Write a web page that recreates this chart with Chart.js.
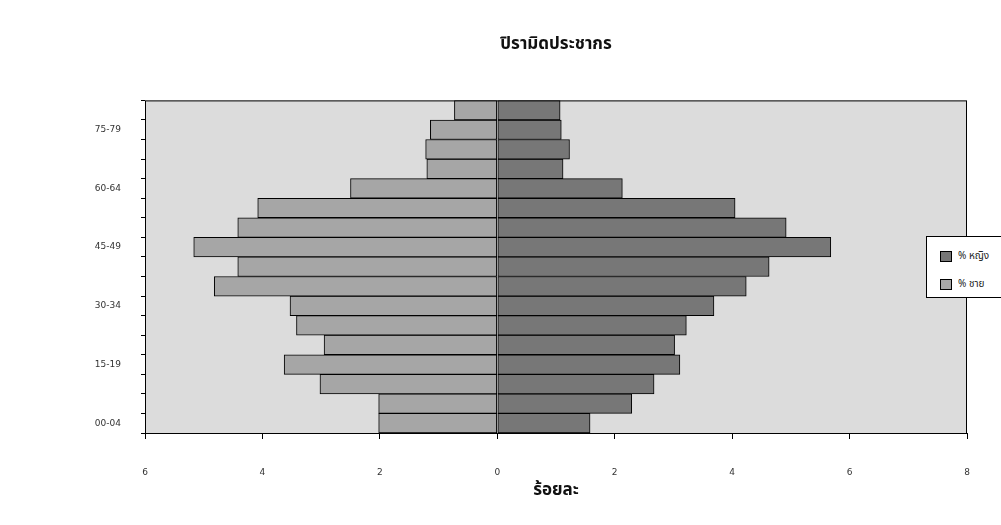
<!DOCTYPE html>
<html>
<head>
<meta charset="utf-8">
<script src="https://cdn.jsdelivr.net/npm/chart.js@4.4.1/dist/chart.umd.min.js"></script>
<style>
  html, body { margin: 0; padding: 0; background: #fff; overflow: hidden; }
  #wrap { position: relative; width: 1001px; height: 525px; }
  #legend {
    position: absolute; left: 926px; top: 236px; width: 110px; height: 62px;
    background: #fff; border: 1px solid #000; box-sizing: border-box;
    font: 10px "Noto Sans Thai", "Noto Sans", "DejaVu Sans", sans-serif; color: #222;
  }
  #legend .item { position: absolute; left: 13px; height: 12px; line-height: 12px; white-space: nowrap; }
  #legend .sw { display: inline-block; width: 10px; height: 9px; border: 1px solid #000; vertical-align: middle; margin-right: 6px; }
</style>
</head>
<body>
<div id="wrap">
  <canvas id="pyramid" width="1001" height="525"></canvas>
  <div id="legend"></div>
</div>
<script>
// age groups, bottom to top
const ageGroups = ['00-04', '05-09', '10-14', '15-19', '20-24', '25-29', '30-34', '35-39',
  '40-44', '45-49', '50-54', '55-59', '60-64', '65-69', '70-74', '75-79', '80+'];

// percent male (drawn to the left, so negative)
const malePct = [-2.02, -2.02, -3.02, -3.63, -2.95, -3.42, -3.53, -4.82,
  -4.42, -5.17, -4.42, -4.08, -2.5, -1.2, -1.22, -1.14, -0.73];

// percent female
const femalePct = [1.58, 2.29, 2.67, 3.11, 3.02, 3.22, 3.69, 4.24,
  4.63, 5.68, 4.92, 4.05, 2.13, 1.12, 1.23, 1.09, 1.07];

const xTicks = [-6, -4, -2, 0, 2, 4, 6, 8];

const femaleColor = '#777777';
const maleColor = '#a6a6a6';
const thaiFont = '"Noto Sans Thai", "Noto Sans", "DejaVu Sans", sans-serif';

// plot area background + frame like the Excel original
const plotBg = {
  id: 'plotBg',
  beforeDraw(chart) {
    const a = chart.chartArea, ctx = chart.ctx;
    ctx.save();
    ctx.fillStyle = '#dcdcdc';
    ctx.fillRect(a.left, a.top, a.right - a.left, a.bottom - a.top);
    ctx.restore();
  },
  afterDraw(chart) {
    const a = chart.chartArea, ctx = chart.ctx;
    ctx.save();
    ctx.strokeStyle = '#000';
    ctx.lineWidth = 1;
    ctx.strokeRect(a.left + 0.5, a.top + 0.5, a.right - a.left - 1, a.bottom - a.top);
    ctx.restore();
  }
};

new Chart(document.getElementById('pyramid'), {
  type: 'bar',
  data: {
    labels: ageGroups,
    datasets: [
      { label: '% หญิง', data: femalePct, backgroundColor: femaleColor, borderColor: '#000',
        borderWidth: 1, borderSkipped: false, barPercentage: 1, categoryPercentage: 1 },
      { label: '% ชาย', data: malePct, backgroundColor: maleColor, borderColor: '#000',
        borderWidth: 1, borderSkipped: false, barPercentage: 1, categoryPercentage: 1 }
    ]
  },
  options: {
    indexAxis: 'y',
    responsive: false,
    animation: false,
    layout: { padding: { left: 0, right: 34, top: 0, bottom: 0 } },
    plugins: {
      legend: { display: false },
      tooltip: { enabled: false },
      title: {
        display: true,
        fullSize: false,
        text: 'ปิรามิดประชากร',
        color: '#111',
        font: { family: thaiFont, size: 17, weight: 'bold' },
        padding: { top: 35, bottom: 45 }
      }
    },
    scales: {
      x: {
        stacked: true,
        min: -6, max: 8,
        afterBuildTicks: s => { s.ticks = xTicks.map(v => ({ value: v })); },
        afterFit: s => { s.height = 92; },
        border: { display: false },
        grid: { drawOnChartArea: false, drawTicks: true, tickLength: 6, color: '#000' },
        ticks: {
          color: '#333', padding: 28,
          font: { family: 'DejaVu Sans', size: 9 },
          callback: v => Math.abs(v)
        },
        title: {
          display: true, text: 'ร้อยละ', color: '#111',
          font: { family: thaiFont, size: 17, weight: 'bold' },
          padding: { top: 5, bottom: 23 }
        }
      },
      y: {
        stacked: true,
        reverse: true,
        border: { display: false },
        afterFit: s => { s.width = 145; },
        grid: { drawOnChartArea: false, drawTicks: true, tickLength: 4, color: '#000' },
        ticks: {
          autoSkip: false, color: '#333', padding: 20,
          font: { family: 'DejaVu Sans', size: 9 },
          callback: function (v, i) { return i % 3 === 0 ? this.getLabelForValue(v) : ''; }
        }
      }
    }
  },
  plugins: [plotBg]
});

// legend box overlapping the right edge, as in the reference
const legend = document.getElementById('legend');
[['% หญิง', femaleColor, 13], ['% ชาย', maleColor, 41]].forEach(([text, color, top]) => {
  const item = document.createElement('div');
  item.className = 'item';
  item.style.top = top + 'px';
  item.innerHTML = '<span class="sw" style="background:' + color + '"></span>' + text;
  legend.appendChild(item);
});
</script>
</body>
</html>
